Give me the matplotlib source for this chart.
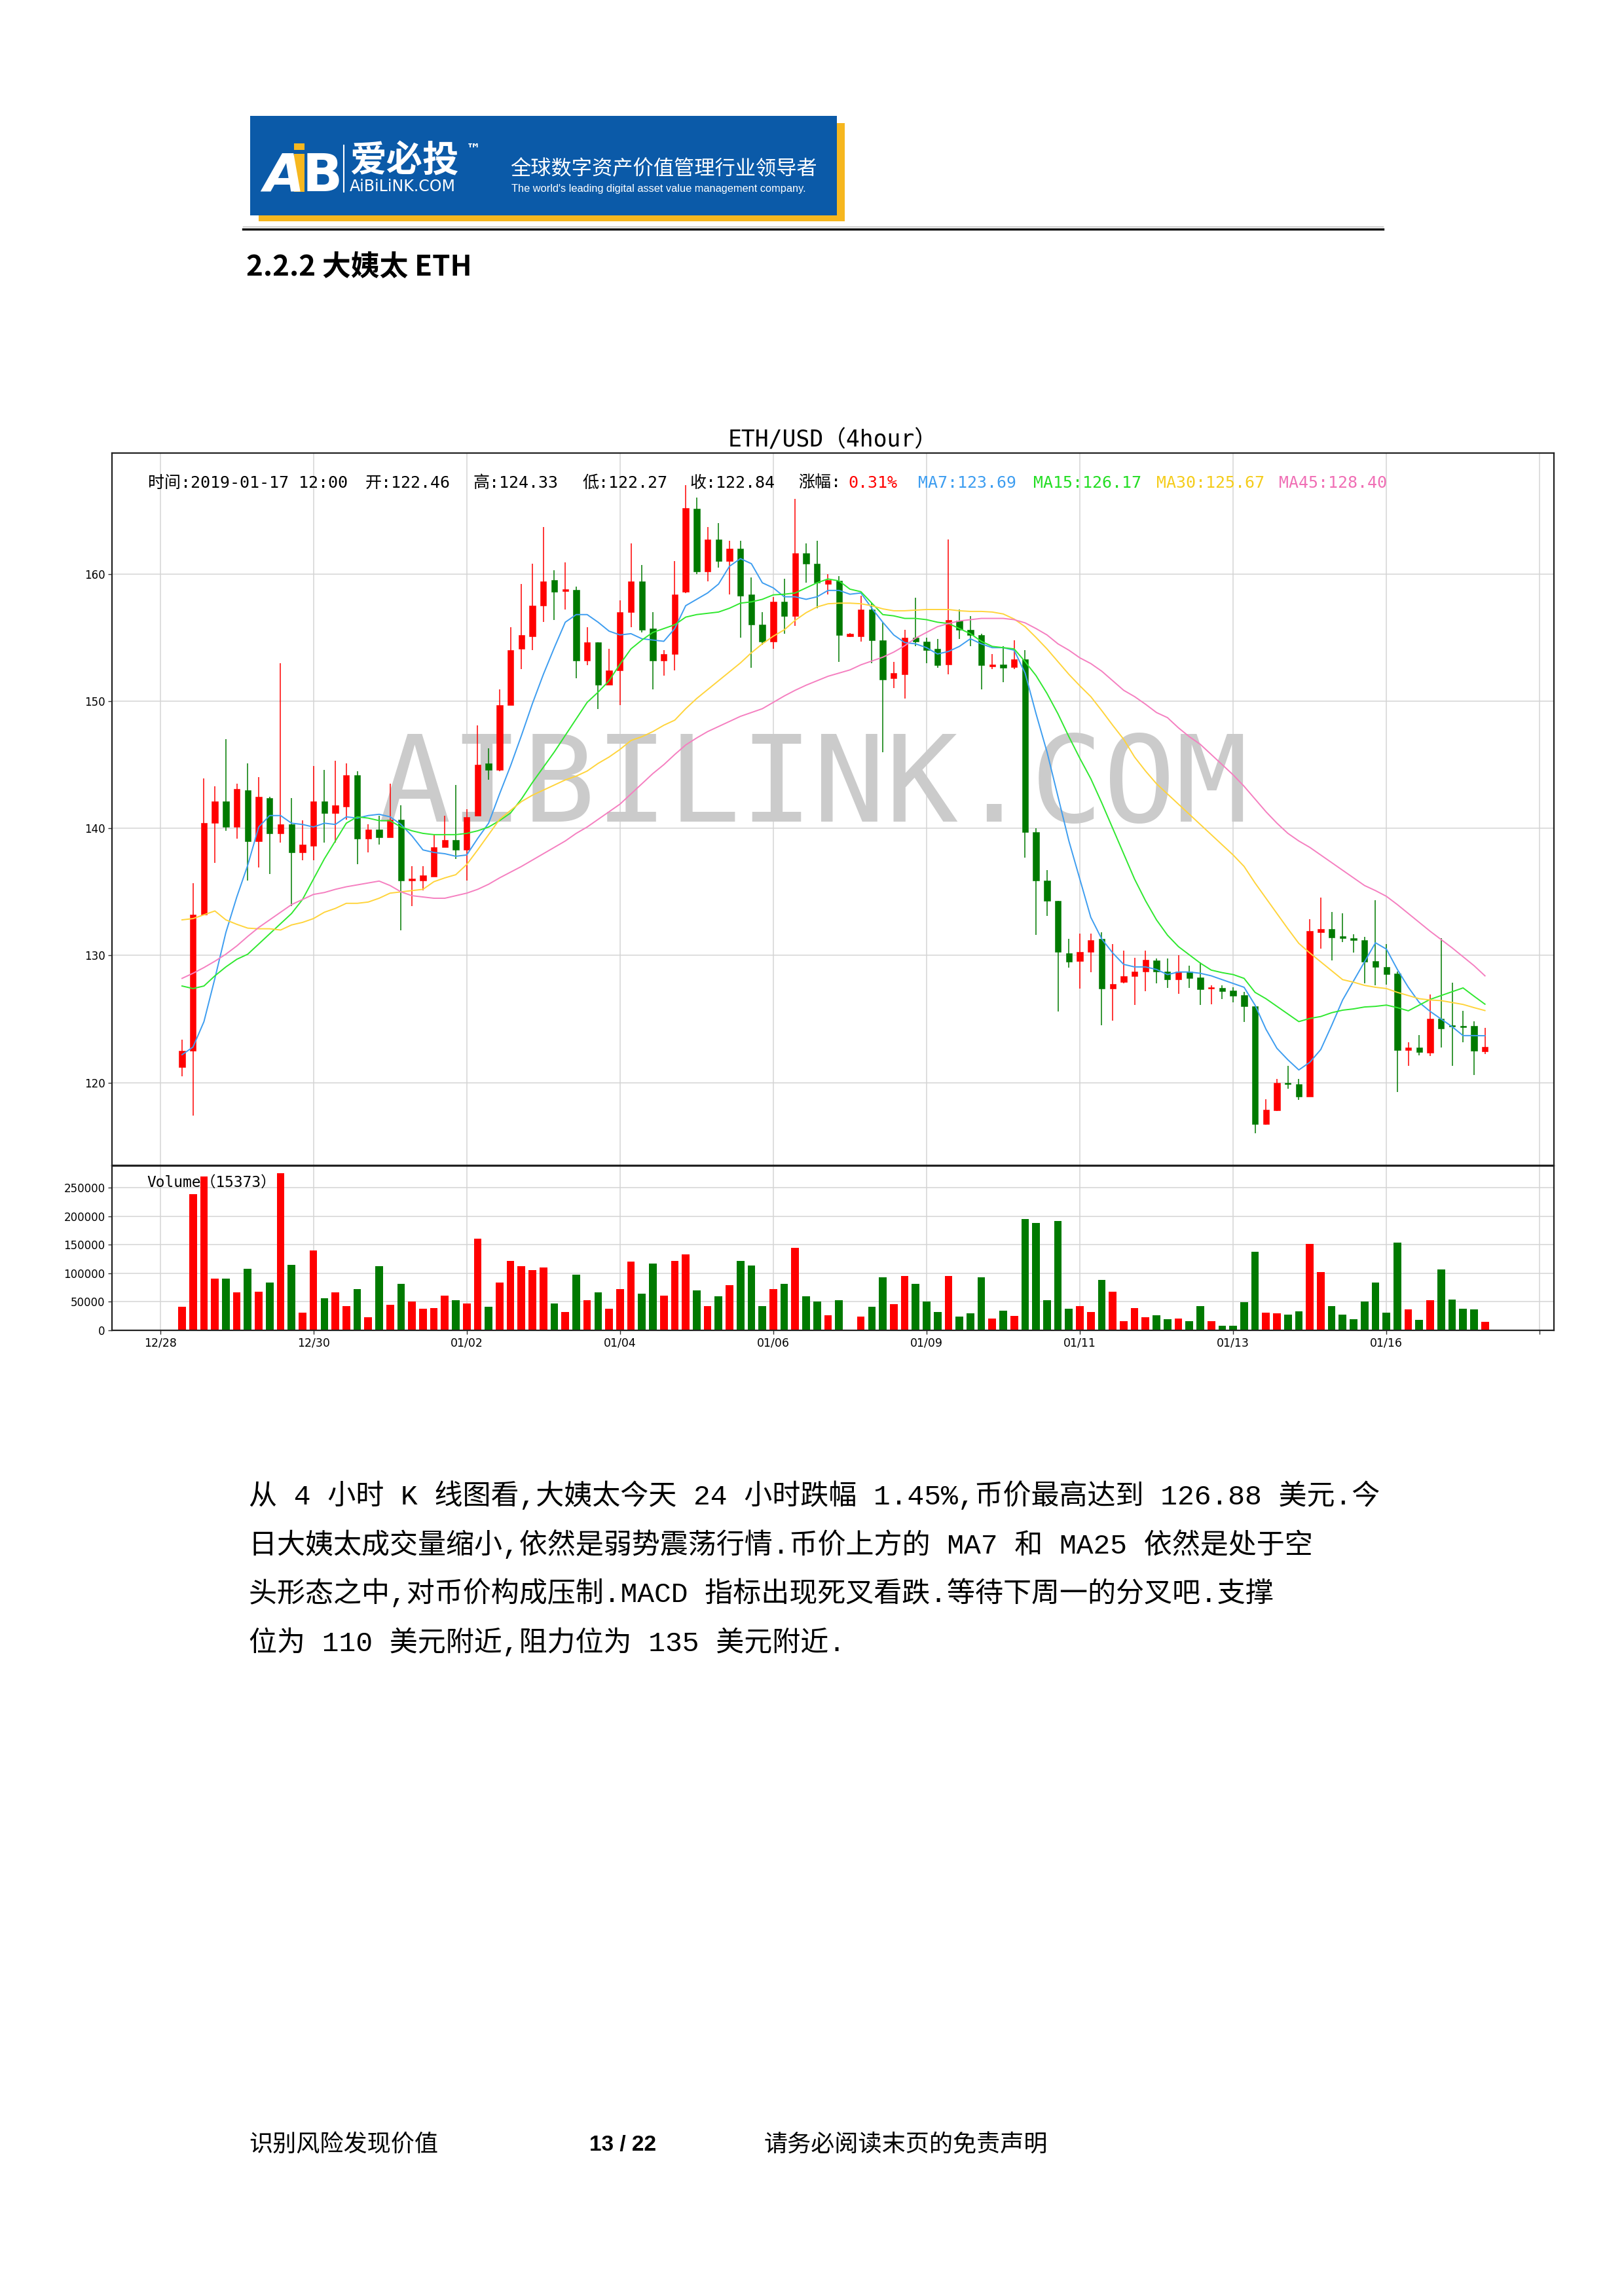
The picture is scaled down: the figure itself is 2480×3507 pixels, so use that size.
import matplotlib
matplotlib.use("Agg")
import matplotlib.pyplot as plt
from matplotlib.patches import Rectangle
from matplotlib.lines import Line2D
import numpy as np

W, H, DPI = 2480, 3507, 100

# ---------------- data (4-hour candles, 2018-12-28 16:00 .. 2019-01-17 12:00) ----------------
open_ = [121.2, 122.5, 133.2, 140.4, 142.1, 140.1, 143.0, 139.0, 142.4, 139.6,
         140.3, 138.1, 138.6, 142.1, 141.2, 141.7, 144.2, 139.2, 139.9, 139.3,
         140.7, 135.9, 135.9, 136.2, 138.5, 139.1, 138.3, 141.0, 145.1, 144.6,
         149.7, 154.1, 155.1, 157.5, 159.5, 158.65, 158.75, 153.2, 154.6, 151.3,
         152.4, 157.0, 159.4, 155.7, 153.2, 153.7, 158.6, 165.1, 160.2, 162.7,
         161.0, 162.0, 158.4, 156.0, 154.7, 157.8, 156.7, 161.6, 160.8, 159.2,
         159.45, 155.1, 155.1, 157.2, 154.8, 151.8, 152.1, 155.0, 154.7, 154.1,
         152.9, 156.3, 155.6, 155.2, 152.7, 152.85, 152.65, 153.3, 139.7, 135.9,
         134.3, 130.2, 129.55, 130.3, 131.3, 127.4, 127.9, 128.35, 128.75, 129.6,
         128.72, 128.12, 128.72, 128.28, 127.38, 127.47, 127.24, 126.86, 126.03, 116.74,
         117.84, 119.97, 119.88, 118.93, 131.81, 132.07, 131.52, 131.38, 131.22, 129.57,
         129.1, 128.59, 122.55, 122.78, 122.33, 125.05, 124.48, 124.48, 124.48, 122.46]
high = [123.4, 135.7, 143.9, 143.3, 147.0, 143.5, 145.1, 144.0, 142.5, 153.0,
        142.4, 140.6, 144.9, 144.6, 145.3, 145.1, 144.5, 140.3, 141.0, 143.5,
        141.8, 137.0, 137.0, 139.5, 141.0, 143.4, 141.5, 148.1, 146.3, 150.9,
        155.8, 159.2, 160.8, 163.7, 160.3, 160.9, 159.0, 155.8, 154.6, 154.1,
        157.9, 162.4, 160.7, 157.0, 154.0, 161.0, 167.0, 166.0, 163.7, 164.0,
        162.6, 162.6, 159.7, 157.0, 158.2, 159.6, 165.9, 162.4, 162.6, 160.0,
        159.8, 155.35, 158.3, 157.7, 156.2, 153.1, 155.6, 158.1, 155.0, 154.9,
        162.7, 157.2, 156.7, 155.3, 153.7, 154.3, 154.8, 154.0, 140.0, 136.7,
        134.3, 131.3, 131.7, 131.7, 131.8, 130.9, 130.4, 129.8, 130.4, 129.75,
        129.74, 130.0, 129.19, 129.45, 127.67, 127.67, 127.5, 127.12, 126.03, 118.72,
        120.31, 121.34, 120.31, 132.84, 134.53, 133.41, 133.33, 131.69, 131.47, 134.33,
        130.91, 128.76, 123.16, 123.76, 126.95, 131.34, 127.86, 125.66, 124.83, 124.33]
low = [120.5, 117.4, 133.2, 137.3, 139.8, 139.2, 135.9, 136.9, 136.4, 138.9,
       133.9, 137.5, 137.5, 138.9, 138.9, 140.7, 137.2, 138.1, 138.7, 139.3,
       132.0, 133.9, 135.1, 136.2, 138.5, 137.6, 135.9, 141.0, 143.8, 144.5,
       149.7, 152.5, 154.0, 156.2, 156.4, 157.2, 151.8, 152.8, 149.4, 151.3,
       149.7, 155.8, 155.4, 150.9, 152.0, 152.4, 158.5, 160.0, 159.4, 160.5,
       158.4, 155.0, 152.6, 154.4, 154.1, 155.3, 155.9, 159.3, 157.3, 158.4,
       153.1, 155.05, 154.7, 153.0, 146.0, 151.0, 150.2, 154.3, 153.0, 152.6,
       152.1, 154.9, 154.3, 150.9, 152.5, 151.5, 152.5, 137.7, 131.6, 133.1,
       125.6, 129.05, 127.4, 128.7, 124.5, 124.9, 127.8, 126.1, 127.2, 127.8,
       127.43, 127.0, 127.43, 126.09, 126.17, 126.55, 126.31, 124.79, 116.0, 116.69,
       117.78, 119.53, 118.64, 118.93, 130.52, 129.62, 131.05, 130.22, 127.81, 127.67,
       127.72, 119.24, 121.34, 122.16, 122.09, 122.78, 121.34, 123.16, 120.6, 122.27]
close = [122.5, 133.2, 140.4, 142.1, 140.1, 143.1, 139.0, 142.5, 139.6, 140.3,
         138.1, 138.7, 142.1, 141.2, 141.8, 144.2, 139.2, 139.9, 139.3, 140.7,
         135.9, 136.0, 136.3, 138.5, 139.1, 138.3, 140.9, 145.0, 144.6, 149.7,
         154.0, 155.2, 157.5, 159.4, 158.6, 158.75, 153.2, 154.6, 151.3, 152.4,
         157.0, 159.4, 155.6, 153.2, 153.7, 158.4, 165.2, 160.2, 162.7, 161.0,
         162.0, 158.3, 156.0, 154.7, 157.8, 156.7, 161.6, 160.8, 159.3, 159.5,
         155.2, 155.3, 157.2, 154.8, 151.7, 152.2, 155.0, 154.7, 154.0, 152.8,
         156.4, 155.6, 155.2, 152.8, 152.85, 152.6, 153.3, 139.7, 135.9, 134.3,
         130.3, 129.5, 130.3, 131.2, 127.4, 127.75, 128.35, 128.75, 129.65, 128.75,
         128.12, 128.72, 128.24, 127.34, 127.47, 127.21, 126.83, 126.0, 116.74, 117.9,
         119.97, 119.88, 118.93, 131.91, 132.07, 131.4, 131.34, 131.21, 129.53, 129.07,
         128.55, 122.55, 122.78, 122.38, 125.05, 124.28, 124.41, 124.36, 122.5, 122.84]
volume = [41400, 238900, 269100, 90100, 91200, 66300, 108100, 68200, 83200, 275300,
          115000, 31400, 139900, 56700, 66300, 42900, 72800, 23000, 112000, 44900,
          81700, 50600, 38000, 39500, 61300, 52900, 46800, 160300, 41400, 83200,
          121900, 112000, 105100, 109700, 46800, 32600, 97000, 52900, 66300, 38300,
          72800, 120000, 64400, 116600, 61300, 121900, 133400, 69800, 42900, 59800,
          79700, 121900, 113100, 42900, 72800, 81700, 144900, 59800, 50600, 26800,
          52900, 0, 24500, 41400, 93200, 46400, 94700, 81700, 50600, 32600,
          94700, 24500, 29500, 93200, 21100, 34500, 24900, 195100, 188600, 52900,
          191700, 37600, 42900, 32600, 88200, 68200, 16500, 39500, 23000, 26500,
          19600, 21100, 16500, 42900, 16500, 8100, 8100, 49800, 138000, 31400,
          29900, 28000, 33000, 151400, 101600, 42900, 28000, 19900, 50600, 83200,
          31400, 153400, 36400, 18000, 52900, 106600, 54400, 38000, 36400, 15373]
ma7 = [122.2, 122.8, 124.8, 128.2, 131.8, 134.6, 137.1, 140.1, 141.0, 141.0,
       140.4, 140.3, 140.1, 140.4, 140.3, 140.9, 140.8, 141.0, 141.1, 140.9,
       140.3, 139.4, 138.3, 138.1, 138.0, 137.8, 137.9, 139.2, 140.4, 142.7,
       144.9, 147.3, 149.8, 152.1, 154.2, 156.2, 156.8, 156.8, 156.2, 155.5,
       155.2, 155.3, 154.9, 154.8, 154.7, 155.7, 157.5, 158.0, 158.5, 159.2,
       160.6, 161.2, 160.8, 159.3, 158.9, 158.2, 158.2, 158.0, 158.2, 158.7,
       158.7, 158.4, 158.5, 157.3, 156.2, 155.2, 154.6, 154.5, 154.2, 153.7,
       153.9, 154.3, 154.9, 154.5, 154.2, 154.2, 154.0, 152.2, 149.0, 146.0,
       142.5, 139.0, 136.0, 133.0, 131.3, 130.2, 129.3, 129.1, 129.1, 128.9,
       128.5, 128.7, 128.7, 128.6, 128.4, 128.1, 127.8, 127.5, 126.1, 124.2,
       122.7, 121.8, 121.0, 121.6, 122.6, 124.5, 126.5, 128.0, 129.5, 131.0,
       130.5, 128.9, 127.5, 126.3, 125.6, 125.0, 124.4, 123.7, 123.7, 123.69]
ma15 = [127.6, 127.4, 127.6, 128.4, 129.1, 129.7, 130.1, 130.9, 131.7, 132.5,
        133.3, 134.4, 136.0, 137.6, 139.0, 140.4, 140.9, 140.8, 140.6, 140.6,
        140.1, 139.8, 139.6, 139.5, 139.5, 139.5, 139.6, 139.8, 140.1, 140.6,
        141.2, 142.3, 143.6, 144.8, 146.0, 147.3, 148.6, 149.9, 150.7, 151.6,
        152.9, 154.1, 154.8, 155.4, 155.7, 156.0, 156.6, 156.8, 156.9, 157.0,
        157.3, 157.7, 157.8, 158.0, 158.35, 158.4, 158.5, 158.9, 159.3, 159.6,
        159.45, 158.8, 158.6, 157.7, 156.8, 156.7, 156.5, 156.5, 156.4, 156.2,
        156.1, 155.7, 155.3, 154.7, 154.3, 154.2, 154.1, 153.1, 152.0, 150.6,
        149.0, 147.2, 145.5, 143.9, 142.0, 140.0, 138.0, 136.0, 134.3, 132.8,
        131.6, 130.7, 130.05, 129.4, 128.85, 128.65, 128.5, 128.2, 127.1, 126.6,
        126.0, 125.4, 124.8, 125.05, 125.2, 125.5, 125.7, 125.8, 125.95, 126.0,
        126.1, 125.9, 125.65, 126.1, 126.55, 126.85, 127.15, 127.45, 126.8, 126.17]
ma30 = [132.8, 132.9, 133.2, 133.5, 132.8, 132.45, 132.15, 132.1, 132.1, 132.0,
        132.4, 132.6, 132.9, 133.4, 133.7, 134.1, 134.1, 134.2, 134.5, 134.9,
        135.0, 135.1, 135.2, 135.8, 136.1, 136.35, 137.15, 138.3, 139.5, 140.7,
        141.4, 142.1, 142.6, 143.0, 143.4, 143.8, 144.1, 144.5, 145.1, 145.6,
        146.2, 146.9, 147.2, 147.6, 148.1, 148.5, 149.4, 150.2, 150.9, 151.6,
        152.3, 153.0, 153.8, 154.5, 155.1, 155.6, 156.35, 156.95, 157.4, 157.65,
        157.7, 157.7, 157.65, 157.5, 157.25, 157.1, 157.1, 157.15, 157.2, 157.2,
        157.2, 157.1, 157.05, 157.05, 157.0, 156.85, 156.45, 155.85, 155.0, 154.1,
        153.1, 152.1, 151.2, 150.35, 149.25, 148.1, 147.0, 145.6, 144.5, 143.5,
        142.7, 141.9, 141.1, 140.3, 139.5, 138.7, 137.9, 137.0, 135.7, 134.5,
        133.3, 132.1, 130.95, 130.2, 129.5, 128.8, 128.1, 127.9, 127.65, 127.5,
        127.4, 127.1, 126.85, 126.6, 126.5, 126.45, 126.3, 126.15, 125.9, 125.67]
ma45 = [128.2, 128.6, 129.05, 129.55, 130.1, 130.75, 131.5, 132.2, 132.8, 133.4,
        134.0, 134.4, 134.8, 134.95, 135.2, 135.4, 135.55, 135.7, 135.85, 135.5,
        135.0, 134.7, 134.6, 134.5, 134.5, 134.7, 134.9, 135.2, 135.6, 136.1,
        136.55, 137.0, 137.5, 138.0, 138.5, 139.0, 139.6, 140.1, 140.7, 141.3,
        141.9, 142.7, 143.5, 144.3, 145.0, 145.8, 146.55, 147.1, 147.6, 148.0,
        148.4, 148.8, 149.1, 149.4, 149.9, 150.4, 150.85, 151.25, 151.6, 151.95,
        152.2, 152.45, 152.85, 153.15, 153.45, 153.85, 154.35, 154.95, 155.4, 155.85,
        156.1, 156.3, 156.4, 156.5, 156.5, 156.5, 156.4, 156.15, 155.7, 155.2,
        154.5, 154.0, 153.4, 152.95, 152.35, 151.6, 150.85, 150.35, 149.75, 149.1,
        148.7, 147.9, 147.2, 146.6, 145.8, 145.0, 144.2, 143.3, 142.3, 141.3,
        140.4, 139.6, 139.0, 138.5, 137.9, 137.3, 136.7, 136.1, 135.5, 135.1,
        134.65, 134.0, 133.3, 132.6, 131.9, 131.25, 130.6, 129.9, 129.2, 128.40]
tick_pos = [-2, 12, 26, 40, 54, 68, 82, 96, 110, 124]
tick_labels = ["12/28", "12/30", "01/02", "01/04", "01/06", "01/09", "01/11", "01/13", "01/16", ""]
price_ticks = [120, 130, 140, 150, 160]
vol_ticks = [0, 50000, 100000, 150000, 200000, 250000]
last_time = "2019-01-17 12:00"

paragraph = [
    "从 4 小时 K 线图看,大姨太今天 24 小时跌幅 1.45%,币价最高达到 126.88 美元.今",
    "日大姨太成交量缩小,依然是弱势震荡行情.币价上方的 MA7 和 MA25 依然是处于空",
    "头形态之中,对币价构成压制.MACD 指标出现死叉看跌.等待下周一的分叉吧.支撑",
    "位为 110 美元附近,阻力位为 135 美元附近.",
]

# ---------------- style ----------------
RED, GREEN = "#ff0000", "#007a00"
C_MA7, C_MA15, C_MA30, C_MA45 = "#3d9df0", "#2fe82f", "#ffd43b", "#f57fc0"
CJK = "Noto Sans CJK SC"
HEI = ["DejaVu Sans Mono", CJK]
SONG = ["Liberation Mono", CJK]
plt.rcParams["font.family"] = ["DejaVu Sans", CJK]

fig = plt.figure(figsize=(W / DPI, H / DPI), dpi=DPI)
fig.patch.set_facecolor("white")


def px2fig(x, y):
    return x / W, 1 - y / H


def ftext(x, y, s, **kw):
    fx, fy = px2fig(x, y)
    return fig.text(fx, fy, s, **kw)


def frect(x0, y0, x1, y1, **kw):
    fig.add_artist(Rectangle((x0 / W, 1 - y1 / H), (x1 - x0) / W, (y1 - y0) / H,
                             transform=fig.transFigure, **kw))


def fline(x0, y0, x1, y1, **kw):
    fig.add_artist(Line2D([x0 / W, x1 / W], [1 - y0 / H, 1 - y1 / H],
                          transform=fig.transFigure, **kw))


# ---------------- page header ----------------
frect(395, 188, 1290, 338, facecolor="#f6b71f", edgecolor="none")
frect(382, 177, 1278, 329, facecolor="#0b5aa8", edgecolor="none")
frect(449, 219, 465, 229, facecolor="#f6b71f", edgecolor="none")
frect(449, 235, 465, 293, facecolor="#f6b71f", edgecolor="none")
ftext(402, 292, "A", color="white", fontsize=58, fontweight="bold", style="italic",
      family="DejaVu Sans", va="baseline")
ftext(462, 292, "B", color="white", fontsize=58, fontweight="bold",
      family="DejaVu Sans", va="baseline")
fline(525, 222, 525, 293, color="white", lw=1.5)
ftext(534, 246, "爱必投", color="white", fontsize=40, fontweight="bold", family=CJK, va="center")
ftext(712, 229, "™", color="white", fontsize=16, fontweight="bold", family="DejaVu Sans", va="center")
ftext(534, 285, "AiBiLiNK.COM", color="white", fontsize=17, family="DejaVu Sans", va="center")
ftext(779, 258, "全球数字资产价值管理行业领导者", color="white", fontsize=22.5, family=CJK, va="center")
ftext(781, 288, "The world's leading digital asset value management company.", color="white",
      fontsize=11.8, family="Liberation Sans", va="center")
fline(371, 346, 2112, 346, color="#bdbdbd", lw=1.0)
fline(371, 350, 2112, 350, color="black", lw=2.4)

ftext(376, 408, "2.2.2 大姨太 ETH", fontsize=31.5, fontweight="bold", family=CJK, va="center")

# ---------------- chart ----------------
idx = np.arange(len(open_))
o = np.array(open_)
c = np.array(close)
up = c >= o
colors = np.where(up, RED, GREEN)

L, R = 171, 2373
ax = fig.add_axes([L / W, 1 - 1780 / H, (R - L) / W, (1780 - 692) / H])
axv = fig.add_axes([L / W, 1 - 2032 / H, (R - L) / W, (2032 - 1781) / H], sharex=ax)

for a in (ax, axv):
    a.set_axisbelow(True)
    a.grid(True, color="#d4d4d4", linewidth=1.1)
    for s in a.spines.values():
        s.set_color("#222222")
        s.set_linewidth(1.6)
    a.tick_params(labelsize=12, length=4, width=1, color="#333333")

ax.vlines(idx, low, high, colors=colors, linewidth=1.1, zorder=2)
ax.bar(idx, np.maximum(np.abs(c - o), 0.12), bottom=np.minimum(o, c), width=0.56,
       color=colors, edgecolor=colors, linewidth=0.4, zorder=3)
ax.plot(idx, ma7, color=C_MA7, lw=1.4, zorder=4)
ax.plot(idx, ma15, color=C_MA15, lw=1.4, zorder=4)
ax.plot(idx, ma30, color=C_MA30, lw=1.4, zorder=4)
ax.plot(idx, ma45, color=C_MA45, lw=1.4, zorder=4)
ax.set_ylim(113.5, 169.5)
ax.set_yticks(price_ticks)
ax.set_xlim(-6.4, 125.3)
ax.set_xticks(tick_pos)
ax.tick_params(axis="x", labelbottom=False, length=0)

# watermark (monospaced so the letters keep the wide, even pitch of the original)
fx, fy = px2fig(578, 1255)
ax.text(fx, fy, "AIBILINK.COM", transform=fig.transFigure, fontsize=132.5, color="#cbcbcb",
        family="DejaVu Sans Mono", ha="left", va="baseline", zorder=1)

# volume
axv.bar(idx, volume, width=0.7, color=colors, zorder=2)
axv.set_ylim(0, 288000)
axv.set_yticks(vol_ticks)
axv.set_yticklabels([str(v) for v in vol_ticks])
axv.set_xticks(tick_pos)
axv.set_xticklabels(tick_labels, fontsize=12.5)
fx, fy = px2fig(224, 1806)
axv.text(fx, fy, f"Volume（{volume[-1]}）", transform=fig.transFigure, fontsize=16.5,
         family=HEI, va="center", zorder=1)

# chart title + info line
ftext(1272, 672, "ETH/USD（4hour）", fontsize=25, family=HEI, ha="center", va="center")
chg = (close[-1] - open_[-1]) / open_[-1] * 100
info = [
    (226, f"时间:{last_time}", "black"),
    (558, f"开:{open_[-1]:.2f}", "black"),
    (722, f"高:{high[-1]:.2f}", "black"),
    (889, f"低:{low[-1]:.2f}", "black"),
    (1053, f"收:{close[-1]:.2f}", "black"),
    (1219, "涨幅:", "black"),
    (1295, f"{chg:.2f}%", RED),
    (1402, f"MA7:{ma7[-1]:.2f}", C_MA7),
    (1578, f"MA15:{ma15[-1]:.2f}", "#22dd22"),
    (1766, f"MA30:{ma30[-1]:.2f}", "#f5cc1a"),
    (1953, f"MA45:{ma45[-1]:.2f}", "#f06fb5"),
]
for x, s, col in info:
    ftext(x, 738, s, fontsize=18, family=HEI, color=col, va="center")

# ---------------- paragraph ----------------
for i, line in enumerate(paragraph):
    ftext(380, 2285 + 74.5 * i, line, fontsize=31, family=SONG, va="center")

# ---------------- footer ----------------
ftext(380, 3277, "识别风险发现价值", fontsize=26, family=CJK, va="center")
ftext(951, 3277, "13 / 22", fontsize=24, family="Liberation Sans", fontweight="bold",
      ha="center", va="center")
ftext(1167, 3277, "请务必阅读末页的免责声明", fontsize=26, family=CJK, va="center")

fig.savefig("out.png", dpi=DPI, facecolor="white")
